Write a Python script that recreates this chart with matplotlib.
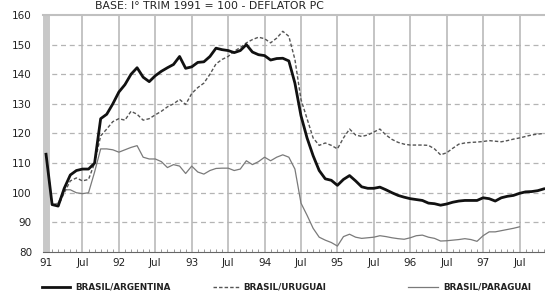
import matplotlib

matplotlib.use("Agg")
import matplotlib.pyplot as plt  # noqa: E402
from matplotlib.lines import Line2D  # noqa: E402

# monthly index, Jan 1991 = month 0
ARGENTINA = [
    113, 96, 95.5, 101.5, 106, 107.5, 108, 108, 110, 125,
    126.5, 130, 134, 136.5, 140, 142.2, 139, 137.5, 139.5, 141,
    142.2, 143.3, 146, 142, 142.5, 144, 144.2, 146, 148.8, 148.3,
    148, 147.3, 148, 150, 147.5, 146.6, 146.3, 144.8, 145.3, 145.4,
    144.5, 137, 126, 118.5, 112.5, 107.5, 104.7, 104.2, 102.5, 104.5,
    105.8, 104, 102, 101.5, 101.5, 101.9, 101, 100, 99.1, 98.5,
    98, 97.7, 97.4, 96.5, 96.3, 95.8, 96.2, 96.8, 97.2, 97.4,
    97.4, 97.4, 98.3, 98, 97.2, 98.3, 98.8, 99.1, 99.8, 100.3,
    100.4, 100.7, 101.3,
]
URUGUAI = [
    113, 96, 95.5, 100, 104, 105, 104, 104.5, 110, 119.2,
    121.5, 124, 125, 124.5, 127.5, 126.5, 124.5, 125, 126.3, 127.5,
    129, 130, 131.5, 129.8, 133.5, 135.5, 137, 140, 143.5, 145,
    146, 147.8, 149, 150.6, 151.7, 152.5, 152, 150.6, 152.2, 154.5,
    152.8, 145, 131.5, 125, 118.5, 116, 116.8, 116, 114.8, 118.5,
    121.5, 119.5, 119, 119.5, 120.5, 121.5, 119.5, 118, 117, 116.4,
    116.1, 116.1, 116.1, 116, 114.8, 112.8, 113.5, 115, 116.4, 116.8,
    117, 117.1, 117.3, 117.6, 117.4, 117.2, 117.6, 118.1, 118.5, 119,
    119.5, 119.8, 120,
]
PARAGUAI = [
    113, 96, 96.5, 101, 101, 100, 99.7, 100, 107, 114.8,
    114.8, 114.5, 113.7, 114.5, 115.3, 115.9, 112, 111.4, 111.4, 110.5,
    108.5, 109.5, 109, 106.5, 109, 107, 106.3, 107.5, 108.2, 108.3,
    108.3, 107.5, 108, 110.8, 109.5, 110.5, 112, 110.8, 112, 112.8,
    112, 108, 96.5, 92.4, 88, 85, 84, 83.2, 82, 85.2,
    86, 85, 84.6, 84.8, 85, 85.5, 85.2, 84.8, 84.5, 84.3,
    84.8, 85.5, 85.7, 85, 84.6, 83.7, 83.8, 84, 84.2, 84.5,
    84.2, 83.6, 85.5, 86.8, 86.8, 87.2, 87.6, 88, 88.5,
]
X_TICK_LABELS = ["91", "Jul", "92", "Jul", "93", "Jul", "94", "Jul",
                 "95", "Jul", "96", "Jul", "97", "Jul"]
Y_TICKS = [80, 90, 100, 110, 120, 130, 140, 150, 160]

GRID = "#b4b4b4"
INK = "#222222"

fig = plt.figure(figsize=(5.45, 2.95), dpi=100)
ax = fig.add_axes([43 / 545, 1 - 252 / 295, 1 - 43 / 545, (252 - 15) / 295])

ax.set_xlim(-0.5, 82.2)
ax.set_ylim(80, 160)

# grid: solid verticals every half-year, dashed horizontals
for i in range(len(X_TICK_LABELS)):
    ax.axvline(i * 6, color=GRID, linewidth=1.1, zorder=0)
for v in Y_TICKS[1:-1]:
    ax.axhline(v, color=GRID, linewidth=0.9, dashes=(4, 3), zorder=0)
ax.axvline(0, color="#c8c8c8", linewidth=5, zorder=0)

ax.plot(range(len(PARAGUAI)), PARAGUAI, color="#7a7a7a", linewidth=0.9, zorder=2)
ax.plot(range(len(URUGUAI)), URUGUAI, color="#555555", linewidth=1.0,
        dashes=(2.5, 1.5), zorder=3)
ax.plot(range(len(ARGENTINA)), ARGENTINA, color="#111111", linewidth=2.0, zorder=4)

ax.set_xticks([i * 6 for i in range(len(X_TICK_LABELS))])
ax.set_xticklabels(X_TICK_LABELS)
ax.set_xticks(range(0, 83), minor=True)
ax.set_yticks(Y_TICKS)
ax.tick_params(axis="x", which="major", length=0, pad=4, labelsize=7.5, colors=INK)
ax.tick_params(axis="x", which="minor", direction="in", length=2.5, color="#888888")
ax.tick_params(axis="y", length=0, pad=8, labelsize=7.5, colors=INK)

for s in ("right", "left"):
    ax.spines[s].set_visible(False)
ax.spines["top"].set_color("#c0c0c0")
ax.spines["top"].set_linewidth(1.5)
ax.spines["bottom"].set_color("#666666")

# title squeezed into the strip above the plot
fig.text(95 / 545, 1 - 1 / 295, "BASE: I° TRIM 1991 = 100 - DEFLATOR PC", ha="left",
         va="top", fontsize=7.8, color=INK)

# legend drawn by hand along the bottom
ly = 1 - 287 / 295
items = [
    (42, 70, 75, "BRASIL/ARGENTINA", dict(color="#111111", linewidth=2.0)),
    (213, 239, 243, "BRASIL/URUGUAI", dict(color="#555555", linewidth=1.0, dashes=(2.5, 1.5))),
    (408, 438, 443, "BRASIL/PARAGUAI", dict(color="#7a7a7a", linewidth=0.9)),
]
for x0, x1, xt, label, style in items:
    fig.add_artist(Line2D([x0 / 545, x1 / 545], [ly, ly], transform=fig.transFigure, **style))
    fig.text(xt / 545, ly, label, ha="left", va="center", fontsize=6.3,
             fontweight="bold", color=INK)

fig.savefig("out.png", dpi=100)
